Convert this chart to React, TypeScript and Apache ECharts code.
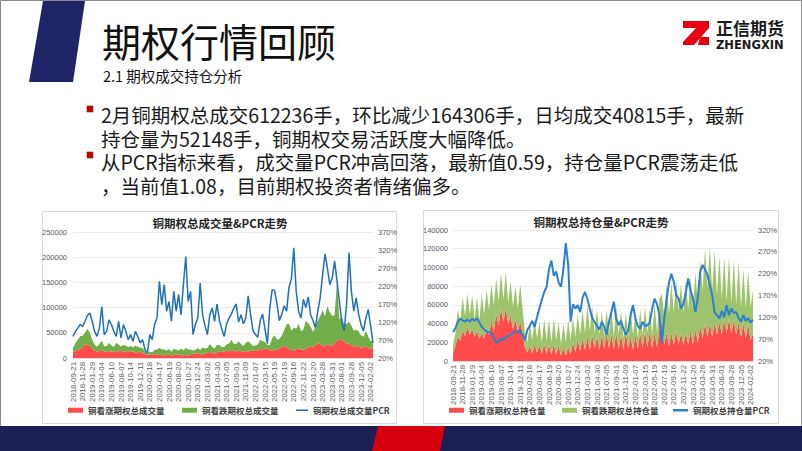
import React, { useEffect, useRef } from "react";
import * as echarts from "echarts";

// x-axis tick labels (one every 4 data points)
const dateLabels = [
  "2018-09-21", "2018-11-28", "2019-01-29", "2019-04-04", "2019-06-10", "2019-08-07",
  "2019-10-14", "2019-12-11", "2020-02-18", "2020-04-17", "2020-06-19", "2020-08-20",
  "2020-10-27", "2020-12-24", "2021-03-02", "2021-04-30", "2021-07-05", "2021-09-01",
  "2021-11-09", "2022-01-07", "2022-03-15", "2022-05-19", "2022-07-19", "2022-09-16",
  "2022-11-22", "2023-01-20", "2023-03-28", "2023-05-31", "2023-08-01", "2023-09-28",
  "2023-12-05", "2024-02-02",
];

// Volume chart (thousand lots) and PCR (%)
const volCallK = [
  12, 14, 16, 18, 22, 26, 28, 24, 18, 15, 13, 14, 16, 13, 12, 14, 13, 12, 14, 13, 15, 12, 13, 14,
  12, 13, 11, 12, 13, 10, 8, 6, 7, 6, 8, 7, 6, 7, 5, 6, 7, 5, 6, 7, 6, 7, 5, 6,
  5, 7, 9, 8, 10, 8, 7, 9, 11, 12, 10, 9, 12, 14, 12, 13, 15, 13, 16, 14, 13, 15, 14, 12,
  14, 13, 15, 14, 16, 15, 18, 17, 20, 18, 16, 15, 17, 16, 20, 22, 25, 22, 18, 16, 15, 18, 20, 17,
  16, 19, 21, 24, 22, 26, 30, 28, 25, 23, 28, 26, 24, 30, 34, 36, 38, 32, 28, 30, 26, 24, 22, 25,
  20, 22, 24, 21, 18, 22,
];
const volPutK = [
  8, 16, 20, 25, 22, 24, 30, 26, 18, 12, 10, 14, 18, 10, 12, 16, 12, 10, 16, 14, 8, 14, 12, 8,
  12, 8, 14, 10, 8, 10, 5, 3, 6, 5, 8, 10, 14, 10, 12, 9, 11, 8, 12, 10, 9, 12, 10, 14,
  12, 10, 6, 8, 10, 8, 14, 10, 9, 16, 12, 10, 14, 12, 10, 9, 12, 16, 20, 14, 15, 18, 14, 12,
  16, 20, 14, 10, 9, 12, 18, 16, 12, 8, 10, 24, 28, 20, 18, 22, 30, 45, 50, 38, 45, 40, 48, 36,
  40, 55, 48, 38, 30, 35, 45, 55, 70, 60, 75, 65, 60, 55, 120, 40, 45, 35, 40, 42, 38, 30, 34, 28,
  25, 20, 30, 22, 15, 12,
];
const volPcr = [
  80, 94, 103, 113, 108, 122, 138, 145, 122, 94, 80, 103, 163, 85, 94, 126, 113, 94, 80, 122,
  76, 113, 94, 71, 85, 66, 94, 80, 62, 71, 43, 34, 85, 71, 113, 131, 233, 168, 224, 150,
  177, 122, 205, 150, 196, 140, 224, 302, 177, 205, 85, 113, 131, 228, 140, 110, 85, 140, 159, 122,
  170, 125, 100, 80, 115, 130, 142, 159, 170, 120, 140, 115, 130, 193, 140, 96, 85, 78, 124, 142,
  100, 60, 160, 210, 207, 170, 124, 142, 165, 150, 216, 240, 326, 205, 150, 131, 183, 160, 190, 140,
  124, 105, 150, 188, 251, 309, 270, 224, 242, 289, 234, 177, 120, 96, 170, 312, 205, 150, 187, 142,
  113, 95, 130, 155, 110, 62,
];

// Open interest chart (thousand lots) and PCR (%)
const oiCallK = [
  8, 16, 26, 22, 32, 27, 36, 28, 34, 26, 32, 24, 30, 24, 34, 28, 42, 32, 50, 38, 56, 42, 57, 40,
  48, 34, 44, 32, 42, 30, 14, 9, 16, 8, 18, 9, 16, 8, 18, 8, 17, 7, 18, 7, 16, 6, 14, 6,
  15, 7, 20, 10, 22, 11, 24, 12, 26, 12, 28, 13, 27, 12, 28, 13, 30, 14, 28, 12, 30, 13, 28, 12,
  30, 14, 26, 12, 28, 13, 30, 14, 32, 15, 32, 14, 30, 15, 34, 42, 18, 30, 16, 30, 17, 32, 18, 30,
  17, 30, 18, 32, 18, 34, 20, 38, 24, 40, 26, 40, 26, 40, 28, 42, 28, 44, 30, 45, 30, 44, 28, 42,
  26, 40, 24, 40, 22, 30,
];
const oiPutK = [
  8, 14, 29, 20, 36, 21, 36, 22, 36, 19, 36, 20, 42, 26, 42, 27, 40, 28, 38, 26, 38, 24, 39, 22,
  38, 24, 36, 24, 40, 26, 16, 11, 24, 14, 26, 15, 26, 12, 27, 14, 27, 13, 28, 15, 26, 12, 26, 14,
  29, 15, 26, 16, 28, 17, 31, 18, 34, 20, 30, 17, 28, 16, 24, 13, 25, 14, 28, 14, 28, 15, 26, 12,
  22, 12, 30, 16, 22, 11, 26, 14, 26, 15, 24, 14, 32, 15, 32, 30, 30, 52, 34, 54, 35, 54, 36, 52,
  35, 56, 37, 58, 38, 60, 42, 70, 51, 80, 52, 82, 50, 78, 42, 70, 38, 66, 34, 67, 32, 64, 32, 64,
  32, 58, 32, 56, 36, 46,
];
const oiPcr = [
  86, 95, 110, 117, 113, 110, 115, 110, 117, 112, 118, 108, 98, 92, 88, 86, 84, 72, 62, 66,
  70, 68, 74, 78, 80, 84, 88, 86, 90, 80, 68, 92, 100, 112, 98, 120, 140, 160, 178, 190,
  230, 250, 215, 225, 200, 190, 230, 290, 240, 110, 150, 140, 148, 132, 165, 178, 162, 140, 118, 110,
  100, 92, 110, 98, 80, 110, 132, 156, 117, 102, 112, 94, 80, 90, 125, 148, 117, 100, 94, 110,
  100, 102, 108, 140, 163, 150, 125, 60, 117, 160, 200, 220, 201, 171, 163, 140, 150, 178, 209, 180,
  163, 132, 165, 224, 240, 230, 217, 194, 171, 132, 125, 117, 135, 120, 148, 125, 140, 130, 132, 118,
  110, 125, 112, 118, 108, 115,
];

const bodyLines = [
  "2月铜期权总成交612236手，环比减少164306手，日均成交40815手，最新",
  "持仓量为52148手，铜期权交易活跃度大幅降低。",
  "从PCR指标来看，成交量PCR冲高回落，最新值0.59，持仓量PCR震荡走低",
  "，当前值1.08，目前期权投资者情绪偏多。",
];

const RED = "#FF4B4B";
const GREEN_L = "#72AE48";
const GREEN_R = "#9DC46C";
const BLUE_L = "#1F6FBF";
const BLUE_R = "#2C7FD2";
const CJK = '"Noto Sans CJK SC", sans-serif';
const LAT = '"Liberation Sans", Arial, sans-serif';

export default function App() {
  const ref = useRef<HTMLDivElement>(null);
  useEffect(() => {
    if (!ref.current) return;
    const chart = echarts.init(ref.current, undefined, { renderer: "svg" });
    const cats = volCallK.map((_, i) => String(i));
    const fmt = (_v: string, idx: number) => (idx % 4 === 0 ? dateLabels[idx / 4] ?? "" : "");
    const xAx = (gi: number) => ({
      gridIndex: gi,
      type: "category",
      data: cats,
      boundaryGap: false,
      axisLine: { lineStyle: { color: "#d9d9d9" } },
      axisTick: { show: false },
      axisLabel: { rotate: 90, interval: 3, fontSize: 7.8, color: "#595959", margin: 4, fontFamily: LAT, formatter: fmt },
    });
    const yl = (gi: number, max: number, itv: number, margin: number) => ({
      gridIndex: gi, type: "value", min: 0, max, interval: itv,
      axisLine: { show: false }, axisTick: { show: false },
      axisLabel: { fontSize: 7.5, color: "#595959", margin, fontFamily: LAT, formatter: (v: number) => String(v) },
      splitLine: { lineStyle: { color: "#ececec", width: 1 } },
    });
    const yr = (gi: number, max: number) => ({
      gridIndex: gi, type: "value", position: "right", min: 20, max, interval: 50,
      axisLine: { show: false }, axisTick: { show: false },
      axisLabel: { fontSize: 7.5, color: "#595959", margin: 5, fontFamily: LAT, formatter: "{value}%" },
      splitLine: { show: false },
    });
    const area = (name: string, data: number[], color: string, xi: number, yi: number, stack: string) => ({
      name, type: "line", xAxisIndex: xi, yAxisIndex: yi, stack,
      data: data.map((v) => v * 1000), symbol: "none",
      lineStyle: { width: 0 }, itemStyle: { color },
      areaStyle: { color, opacity: 1 },
    });
    const pcrLine = (name: string, data: number[], color: string, xi: number, yi: number, w: number) => ({
      name, type: "line", xAxisIndex: xi, yAxisIndex: yi, data, symbol: "none",
      lineStyle: { width: w, color }, itemStyle: { color }, z: 3,
    });
    const leg = (name: string, left: number, icon: string, w: number, h: number) => ({
      data: [name], left, top: 406, padding: 0, icon, itemWidth: w, itemHeight: h,
      textStyle: { fontSize: 8.5, color: "#404040", fontFamily: CJK, fontWeight: "bold" },
    });
    const option: any = {
      animation: false,
      backgroundColor: "#ffffff",
      grid: [
        { left: 73, top: 232, width: 300, height: 126 },
        { left: 453, top: 230, width: 300, height: 131 },
      ],
      xAxis: [xAx(0), xAx(1)],
      yAxis: [yl(0, 250000, 50000, 6), yr(0, 370), yl(1, 140000, 20000, 5), yr(1, 320)],
      legend: [
        leg("铜看涨期权总成交量", 68, "rect", 15, 5),
        leg("铜看跌期权总成交量", 182, "rect", 15, 5),
        leg("铜期权总成交量PCR", 296, "rect", 12, 1.5),
        leg("铜看涨期权总持仓量", 449, "rect", 15, 5),
        leg("铜看跌期权总持仓量", 562, "rect", 15, 5),
        leg("铜期权总持仓量PCR", 673, "rect", 15, 2.5),
      ],
      series: [
        area("铜看涨期权总成交量", volCallK, RED, 0, 0, "vol"),
        area("铜看跌期权总成交量", volPutK, GREEN_L, 0, 0, "vol"),
        pcrLine("铜期权总成交量PCR", volPcr, BLUE_L, 0, 1, 1.5),
        area("铜看涨期权总持仓量", oiCallK, RED, 1, 2, "oi"),
        area("铜看跌期权总持仓量", oiPutK, GREEN_R, 1, 2, "oi"),
        pcrLine("铜期权总持仓量PCR", oiPcr, BLUE_R, 1, 3, 2),
      ],
      graphic: {
        elements: [
          { type: "rect", z: 0, shape: { x: 0.5, y: 0.5, width: 801, height: 450 }, style: { fill: "none", stroke: "#8c8c8c", lineWidth: 1 } },
          { type: "polygon", shape: { points: [[43, 1], [85, 1], [73, 82], [29, 82]] }, style: { fill: "#1E2466" } },
          { type: "text", x: 102, y: 40, style: { text: "期权行情回顾", font: `400 39px ${CJK}`, fill: "#111111", verticalAlign: "middle", lineHeight: 40 } },
          { type: "text", x: 103, y: 75, style: { text: "2.1 期权成交持仓分析", font: `400 14.5px ${CJK}`, fill: "#111111", verticalAlign: "middle", lineHeight: 15 } },
          // logo
          { type: "polygon", shape: { points: [[683, 21], [709, 21], [709, 28], [694, 45], [683, 45], [683, 42], [696, 28], [683, 28]] }, style: { fill: "#E60012" } },
          { type: "polygon", shape: { points: [[700, 37], [709, 37], [709, 45], [698, 45]] }, style: { fill: "#E60012" } },
          { type: "text", x: 716, y: 27.5, style: { text: "正信期货", font: `700 17px ${CJK}`, fill: "#1a1a1a", verticalAlign: "middle", lineHeight: 17 } },
          { type: "text", x: 716, y: 44.5, style: { text: "ZHENGXIN", font: `700 11.5px "DejaVu Sans", sans-serif`, fill: "#1a1a1a", verticalAlign: "middle", lineHeight: 11 } },
          // bullets
          { type: "rect", shape: { x: 87, y: 106, width: 6, height: 6 }, style: { fill: "#C00000", stroke: "#8a1010", lineWidth: 0.6 } },
          { type: "rect", shape: { x: 87, y: 152, width: 6, height: 6 }, style: { fill: "#C00000", stroke: "#8a1010", lineWidth: 0.6 } },
          ...bodyLines.map((t, k) => ({
            type: "text", x: 101, y: [114, 138.5, 161.5, 185.5][k],
            style: { text: t, font: `400 19.5px ${CJK}`, fill: "#1a1a1a", verticalAlign: "middle", lineHeight: 21 },
          })),
          // chart boxes
          { type: "rect", z: 0, shape: { x: 42.5, y: 211.5, width: 354, height: 212 }, style: { fill: "none", stroke: "#d9d9d9", lineWidth: 1 } },
          { type: "rect", z: 0, shape: { x: 423.5, y: 210.5, width: 355, height: 213 }, style: { fill: "none", stroke: "#d9d9d9", lineWidth: 1 } },
          { type: "text", x: 220, y: 223, style: { text: "铜期权总成交量&PCR走势", font: `700 11.5px ${CJK}`, fill: "#262626", align: "center", verticalAlign: "middle" } },
          { type: "text", x: 601, y: 222, style: { text: "铜期权总持仓量&PCR走势", font: `700 11.5px ${CJK}`, fill: "#262626", align: "center", verticalAlign: "middle" } },
          // bottom band
          { type: "rect", shape: { x: 0, y: 426, width: 802, height: 25 }, style: { fill: "#1B1F54" } },
          { type: "polygon", shape: { points: [[378, 426], [445, 426], [440, 451], [372, 451]] }, style: { fill: "#D7000F" } },
        ],
      },
    };
    chart.setOption(option);
    return () => chart.dispose();
  }, []);
  return <div ref={ref} style={{ position: "absolute", left: 0, top: 0, width: 802, height: 451 }} />;
}
